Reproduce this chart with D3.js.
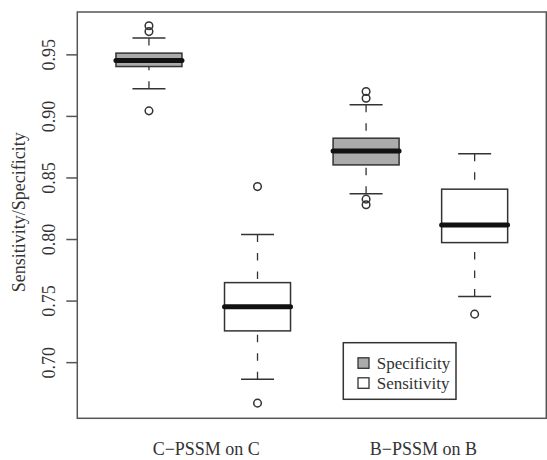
<!DOCTYPE html>
<html>
<head>
<meta charset="utf-8">
<script src="https://cdn.jsdelivr.net/npm/d3@7"></script>
<style>
  body { margin: 0; background: #fff; }
  svg { display: block; }
  text { font-family: "Liberation Serif", "Times New Roman", serif; fill: #333; }
</style>
</head>
<body>
<svg width="547" height="460"></svg>
<script>
// groups on the x axis and the two measures
var groups = ["C\u2212PSSM on C", "B\u2212PSSM on B"];
var series = ["Specificity", "Sensitivity"];
var yTicks = [0.70, 0.75, 0.80, 0.85, 0.90, 0.95];

// box stats per group: [lower whisker, q1, median, q3, upper whisker]
var specificityStats = [
  [0.9224, 0.9405, 0.9454, 0.9514, 0.9636],
  [0.8371, 0.8606, 0.8720, 0.8823, 0.9094]
];
var specificityOutliers = [
  [0.9736, 0.9689, 0.9045],
  [0.9202, 0.9148, 0.8328, 0.8282]
];
var sensitivityStats = [
  [0.6866, 0.7258, 0.7455, 0.7650, 0.8040],
  [0.7537, 0.7975, 0.8119, 0.8409, 0.8696]
];
var sensitivityOutliers = [
  [0.8430, 0.6671],
  [0.7394]
];

var fills = {Specificity: "#ababab", Sensitivity: "#ffffff"};

// one box per (group, series), placed at 1..4 like R's boxplot
var boxes = [];
groups.forEach(function(g, gi){
  boxes.push({pos: gi * 2 + 1, serie: "Specificity", s: specificityStats[gi], out: specificityOutliers[gi]});
  boxes.push({pos: gi * 2 + 2, serie: "Sensitivity", s: sensitivityStats[gi], out: sensitivityOutliers[gi]});
});

// note: "top" is taken by window.top, so plot edges get their own names
var plotLeft = 77.3, plotRight = 546.3, plotTop = 12, plotBottom = 418.3;
var svg = d3.select('svg');

var x = d3.scaleLinear().domain([0.34, 4.66]).range([plotLeft, plotRight]);
var y = d3.scaleLinear().domain([0.6548, 0.9848]).range([plotBottom, plotTop]);

var halfBox = 0.304;   // in x units
var ink = "#333";

var g = svg.append('g');

boxes.forEach(function(b){
  var cx = x(b.pos);
  var hw = x(b.pos + halfBox) - cx;
  var s = b.s;
  // whiskers, drawn from the staple towards the box so the dashes start at the staple
  [[s[4], s[3]], [s[0], s[1]]].forEach(function(w){
    g.append('line')
      .attr('x1', cx).attr('x2', cx)
      .attr('y1', y(w[0])).attr('y2', y(w[1]))
      .attr('stroke', ink).attr('stroke-width', 1.3).attr('stroke-dasharray', '7.5,11');
  });
  // staples
  [s[0], s[4]].forEach(function(v){
    g.append('line')
      .attr('x1', cx - hw / 2).attr('x2', cx + hw / 2)
      .attr('y1', y(v)).attr('y2', y(v))
      .attr('stroke', ink).attr('stroke-width', 1.5);
  });
  // box
  g.append('rect')
    .attr('x', cx - hw).attr('width', hw * 2)
    .attr('y', y(s[3])).attr('height', y(s[1]) - y(s[3]))
    .attr('fill', fills[b.serie])
    .attr('stroke', ink).attr('stroke-width', 1.5);
  // median
  g.append('line')
    .attr('x1', cx - hw).attr('x2', cx + hw)
    .attr('y1', y(s[2])).attr('y2', y(s[2]))
    .attr('stroke', '#111').attr('stroke-width', 5)
    .attr('stroke-linecap', 'round');
  // outliers
  g.selectAll(null).data(b.out).enter().append('circle')
    .attr('cx', cx)
    .attr('cy', function(d){ return y(d); })
    .attr('r', 3.8)
    .attr('fill', 'none')
    .attr('stroke', ink).attr('stroke-width', 1.5);
});

// frame
svg.append('rect')
  .attr('x', plotLeft).attr('y', plotTop)
  .attr('width', plotRight - plotLeft).attr('height', plotBottom - plotTop)
  .attr('fill', 'none').attr('stroke', '#555').attr('stroke-width', 1.5);

// y axis ticks and labels
var yAxis = svg.append('g');
yTicks.forEach(function(t){
  yAxis.append('line')
    .attr('x1', plotLeft - 11).attr('x2', plotLeft)
    .attr('y1', y(t)).attr('y2', y(t))
    .attr('stroke', '#555').attr('stroke-width', 1.5);
  yAxis.append('text')
    .attr('transform', 'translate(49,' + y(t) + ') rotate(-90)')
    .attr('text-anchor', 'middle')
    .attr('dy', '0.35em')
    .style('font-size', '18px')
    .text(d3.format('.2f')(t));
});

svg.append('text')
  .attr('transform', 'translate(19,' + ((plotTop + plotBottom) / 2 - 3) + ') rotate(-90)')
  .attr('text-anchor', 'middle')
  .attr('dy', '0.35em')
  .style('font-size', '18px')
  .text('Sensitivity/Specificity');

// group labels under the plot
svg.selectAll('.glabel').data(groups).enter().append('text')
  .attr('class', 'glabel')
  .attr('x', function(d, i){ return x(i * 2 + 1.5) + 3; })
  .attr('y', 455)
  .attr('text-anchor', 'middle')
  .style('font-size', '18px')
  .text(function(d){ return d; });

// legend
var lg = svg.append('g');
lg.append('rect')
  .attr('x', 343.3).attr('y', 342.7)
  .attr('width', 112.7).attr('height', 56.6)
  .attr('fill', '#fff').attr('stroke', ink).attr('stroke-width', 1.5);
series.forEach(function(s, i){
  lg.append('rect')
    .attr('x', 358).attr('y', 357.8 + i * 20)
    .attr('width', 11).attr('height', 10.5)
    .attr('fill', fills[s]).attr('stroke', ink).attr('stroke-width', 1.3);
  lg.append('text')
    .attr('x', 376.7).attr('y', 368.5 + i * 20)
    .style('font-size', '17px')
    .text(s);
});
</script>
</body>
</html>
